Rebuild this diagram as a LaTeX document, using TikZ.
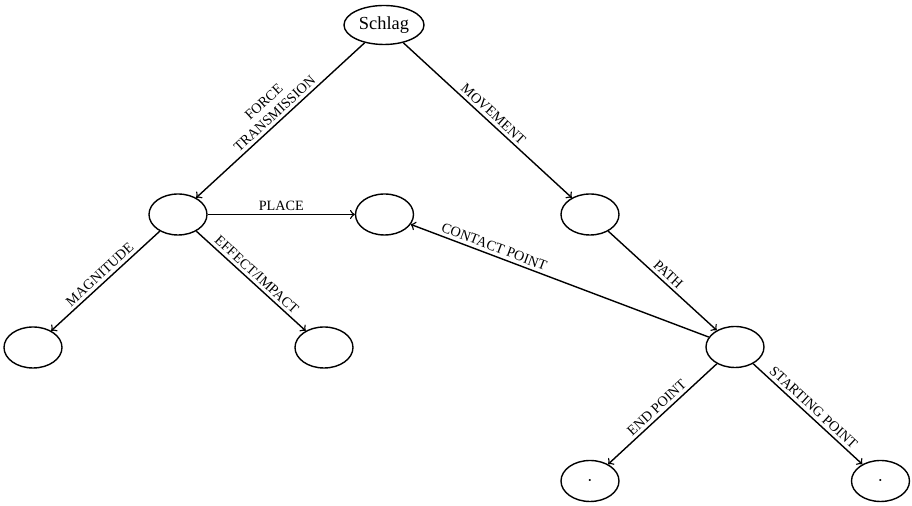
\documentclass[tikz,border=0pt]{standalone}
\usepackage{fontspec}
\setmainfont{Liberation Serif}
\usetikzlibrary{shapes.geometric}
\begin{document}
\begin{tikzpicture}[x=0.5pt,y=-0.5pt,
  oval/.style={draw,ellipse,line width=0.7pt,minimum width=29pt,minimum height=20.5pt,inner sep=0pt},
  link/.style={->,line width=0.7pt},
  lab/.style={sloped,above,inner sep=1.6pt,font=\fontsize{7.1pt}{8pt}\selectfont,align=center}]
\useasboundingbox (0,0) rectangle (912,506);
\node[oval,minimum width=40pt,minimum height=19.5pt,font=\fontsize{9.2pt}{10pt}\selectfont] (s) at (384,25) {Schlag};
\node[oval] (a) at (178,214.5) {};
\node[oval] (b) at (384.5,214.5) {};
\node[oval] (c) at (590,214.5) {};
\node[oval] (d) at (33,347.5) {};
\node[oval] (e) at (324,347.5) {};
\node[oval] (f) at (735,347) {};
\node[oval] (g) at (590,481) {$\cdot$};
\node[oval] (h) at (880.5,481) {$\cdot$};
\draw[link] (s) -- node[lab] {FORCE\\TRANSMISSION} (a);
\draw[link] (s) -- node[lab] {MOVEMENT} (c);
\draw[link] (a) -- node[lab] {PLACE} (b);
\draw[link] (a) -- node[lab] {MAGNITUDE} (d);
\draw[link] (a) -- node[lab] {EFFECT/IMPACT} (e);
\draw[link] (c) -- node[lab] {PATH} (f);
\draw[link] (f) -- node[lab,pos=0.73] {CONTACT POINT} (b);
\draw[link] (f) -- node[lab] {END POINT} (g);
\draw[link] (f) -- node[lab] {STARTING POINT} (h);
\end{tikzpicture}
\end{document}
